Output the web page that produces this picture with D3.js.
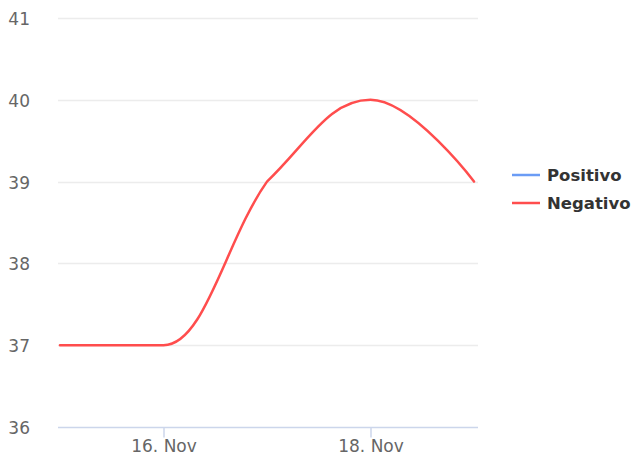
<!DOCTYPE html>
<html><head><meta charset="utf-8">
<script src="https://cdn.jsdelivr.net/npm/d3@7"></script>
<style>body{margin:0;background:#fff}svg{display:block}</style>
</head><body>
<svg id="c" width="638" height="462"></svg>
<script>
const dates = ["2023-11-15","2023-11-16","2023-11-17","2023-11-18","2023-11-19"];
const positivo = [];
const negativo = [37, 37, 39, 40, 39];
const yTicks = [36, 37, 38, 39, 40, 41];
const xTickDates = ["2023-11-16","2023-11-18"];
const seriesNames = ["Positivo", "Negativo"];
const seriesColors = ["#6b9cf5", "#ff4d4d"];

const svg = d3.select("#c");
const parse = d3.utcParse("%Y-%m-%d");
const x = d3.scaleUtc().domain([parse(dates[0]), parse(dates[dates.length-1])]).range([60, 474]);
const y = d3.scaleLinear().domain([36, 41]).range([427, 18]);
const plotLeft = 58, plotRight = 478;
const font = "DejaVu Sans, sans-serif";

// grid
svg.append("g").selectAll("line").data(yTicks.slice(1)).join("line")
  .attr("x1", plotLeft).attr("x2", plotRight)
  .attr("y1", d => Math.round(y(d)) + 0.5).attr("y2", d => Math.round(y(d)) + 0.5)
  .attr("stroke", "#ececec").attr("stroke-width", 1.5);

// y labels
svg.append("g").selectAll("text").data(yTicks).join("text")
  .attr("x", 30).attr("y", d => y(d) + 7)
  .attr("text-anchor", "end").attr("font-family", font).attr("font-size", 17)
  .attr("fill", "#666").text(d => d);

// x axis
const xAxis = d3.axisBottom(x).tickValues(xTickDates.map(parse)).tickSize(10)
  .tickFormat(d => d3.utcFormat("%-d. %b")(d));
const gx = svg.append("g").attr("transform", `translate(0,${Math.round(y(36)) + 0.5})`).call(xAxis);
gx.select(".domain").remove();
gx.insert("line", ":first-child").attr("x1", plotLeft).attr("x2", plotRight).attr("stroke", "#ccd6eb").attr("stroke-width", 1.5);
gx.selectAll(".tick line").attr("stroke", "#ccd6eb").attr("stroke-width", 1.5);
gx.selectAll(".tick text").attr("font-family", font).attr("font-size", 17).attr("fill", "#666").attr("dy", "0.95em").attr("y", 8);

// Highcharts-like spline
function splinePath(pts) {
  const smoothing = 1.5, denom = smoothing + 1;
  const p = d3.path();
  let rc = null;
  pts.forEach((pt, i) => {
    const [px, py] = pt;
    if (i === 0) { p.moveTo(px, py); return; }
    const last = pts[i-1], next = pts[i+1];
    let lcx = px, lcy = py, newRc = null;
    if (next) {
      const [lx, ly] = last, [nx, ny] = next;
      lcx = (smoothing*px + lx)/denom; lcy = (smoothing*py + ly)/denom;
      let rcx = (smoothing*px + nx)/denom, rcy = (smoothing*py + ny)/denom;
      const dl = Math.hypot(lcx-px, lcy-py), dr = Math.hypot(rcx-px, rcy-py);
      const corr = (rcy - lcy) * dl / (dl + dr) + lcy - py;
      lcy -= corr; rcy -= corr;
      if (lcy > ly && lcy > py) { lcy = Math.max(ly, py); rcy = 2*py - lcy; }
      else if (lcy < ly && lcy < py) { lcy = Math.min(ly, py); rcy = 2*py - lcy; }
      if (rcy > ny && rcy > py) { rcy = Math.max(ny, py); lcy = 2*py - rcy; }
      else if (rcy < ny && rcy < py) { rcy = Math.min(ny, py); lcy = 2*py - rcy; }
      newRc = [rcx, rcy];
    }
    const c1 = rc || last;
    p.bezierCurveTo(c1[0], c1[1], lcx, lcy, px, py);
    rc = newRc;
  });
  return p.toString();
}

[positivo, negativo].forEach((vals, si) => {
  if (!vals.length) return;
  const pts = vals.map((v, i) => [x(parse(dates[i])), y(v)]);
  svg.append("path").attr("d", splinePath(pts)).attr("fill", "none")
    .attr("stroke", seriesColors[si]).attr("stroke-width", 2.5)
    .attr("stroke-linejoin", "round").attr("stroke-linecap", "round");
});

// legend
const lg = svg.append("g").selectAll("g").data(seriesNames).join("g")
  .attr("transform", (d, i) => `translate(512,${175 + i*28})`);
lg.append("line").attr("x1", 0).attr("x2", 28).attr("stroke", (d, i) => seriesColors[i]).attr("stroke-width", 2.5);
lg.append("text").attr("x", 35).attr("y", 6).attr("font-family", font).attr("font-size", 16.5)
  .attr("font-weight", "bold").attr("fill", "#333").text(d => d);
</script>
</body></html>
